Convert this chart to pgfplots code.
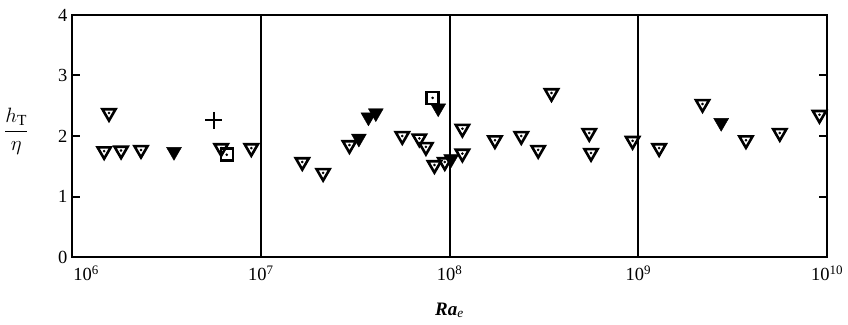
\documentclass[border=0pt]{standalone}
\usepackage{pgfplots}
\pgfplotsset{compat=1.18}
\usepackage{pgfplotstable}
\usepackage{fontspec}
\setmainfont{Liberation Serif}

\pgfplotstableread{
x y
1.48e6 1.75
1.82e6 1.76
2.32e6 1.77
1.57e6 2.38
6.17e6 1.80
8.91e6 1.80
1.66e7 1.57
2.14e7 1.39
2.95e7 1.85
5.62e7 2.00
6.92e7 1.96
7.50e7 1.82
8.32e7 1.52
9.44e7 1.57
1.17e8 2.12
1.17e8 1.71
1.74e8 1.93
2.40e8 2.00
2.95e8 1.77
3.47e8 2.71
5.50e8 2.05
5.62e8 1.72
9.33e8 1.92
1.29e9 1.80
2.19e9 2.53
3.72e9 1.93
5.62e9 2.05
9.12e9 2.35
}\opentri

\pgfplotstableread{
x y
3.47e6 1.74
3.31e7 1.96
3.72e7 2.31
4.07e7 2.38
8.71e7 2.46
1.02e8 1.62
2.75e9 2.22
}\filledtri

\pgfplotstableread{
x y
6.61e6 1.69
8.13e7 2.63
}\opensq

\pgfplotstableread{
x y
5.62e6 2.26
}\plusdata

\begin{document}
\begin{tikzpicture}
\useasboundingbox (-72pt,-67pt) rectangle (776pt,257pt);
\begin{axis}[
  at={(0,0)}, anchor=south west,
  scale only axis,
  width=755pt, height=242pt,
  xmode=log,
  xmin=1e6, xmax=1e10,
  ymin=0, ymax=4,
  axis line style={line width=2pt},
  tick label style={font=\fontsize{18.5}{21}\selectfont},
  xtick={1e6,1e7,1e8,1e9,1e10},
  xticklabels={\hspace*{28pt}10\textsuperscript{6},10\textsuperscript{7},10\textsuperscript{8},10\textsuperscript{9},10\textsuperscript{10}},
  x tick style={draw=none},
  xmajorgrids=true,
  major grid style={line width=2pt, black},
  ytick={0,1,2,3,4},
  yticklabels={0,1,2,3,4},
  y tick style={line width=2pt, black},
  tick align=inside,
  ytick pos=both,
  yticklabel pos=left,
  major tick length=8pt,
  minor tick num=0,
  xticklabel style={yshift=-5pt},
  yticklabel style={xshift=-1pt},
  xlabel={\textit{\textbf{Ra}}\textsubscript{\textit{e}}},
  xlabel style={font=\fontsize{19}{22}\selectfont, at={(axis description cs:0.5,-0.22)}, anchor=center},
  ylabel={$\displaystyle\frac{h_{\mathrm{T}}}{\eta}$},
  ylabel style={font=\fontsize{22}{26}\selectfont, rotate=-90, at={(axis description cs:-0.074,0.52)}, anchor=center},
  clip=false,
]
\addplot[only marks, mark=triangle, mark size=7.6pt, mark options={rotate=180, line width=2.6pt, fill=white, draw=black}] table {\opentri};
\addplot[only marks, mark=*, mark size=1.1pt, mark options={fill=black, draw=black}] table {\opentri};
\addplot[only marks, mark=square, mark size=6pt, mark options={line width=2.6pt, fill=white, draw=black}] table {\opensq};
\addplot[only marks, mark=*, mark size=1.1pt, mark options={fill=black, draw=black}] table {\opensq};
\addplot[only marks, mark=triangle*, mark size=8.6pt, mark options={rotate=180, fill=black, draw=black}] table {\filledtri};
\addplot[only marks, mark=+, mark size=8.5pt, mark options={line width=2pt, draw=black}] table {\plusdata};
\end{axis}
\end{tikzpicture}
\end{document}
